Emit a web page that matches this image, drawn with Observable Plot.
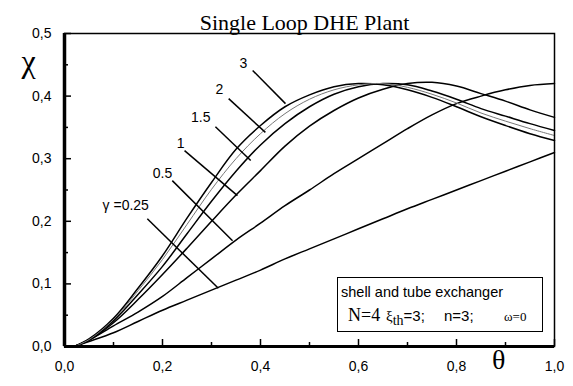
<!DOCTYPE html>
<html>
<head>
<meta charset="utf-8">
<script src="https://cdn.jsdelivr.net/npm/d3@7"></script>
<script src="https://cdn.jsdelivr.net/npm/@observablehq/plot@0.6"></script>
<style>
  body { margin: 0; background: #fff; }
  #wrap { position: relative; width: 573px; height: 386px; }
  #legend { position: absolute; left: 337px; top: 277px; width: 204px; height: 53px; border: 1.5px solid #000; background: #fff; }
  #legend span { position: absolute; white-space: nowrap; color: #000; }
  .sans { font-family: "Liberation Sans", Arial, sans-serif; }
  .serif { font-family: "Liberation Serif", "Times New Roman", serif; }
</style>
</head>
<body>
<div id="wrap">
  <div id="legend">
    <span class="sans" style="left:3px; top:6px; font-size:14.5px;">shell and tube exchanger</span>
    <span class="serif" style="left:10px; top:27px; font-size:18px;">N=4</span>
    <span style="left:48px; top:29px; font-size:15px;"><span class="serif" style="position:static">ξ</span><span class="serif" style="position:relative; top:4px; font-size:14px;">th</span><span class="sans" style="position:static">=3;</span></span>
    <span class="sans" style="left:106px; top:29px; font-size:15px;">n=3;</span>
    <span class="serif" style="left:166px; top:31px; font-size:13px;">ω=0</span>
  </div>
</div>
<script>
// θ grid shared by all curves
const theta = [0.02, 0.05, 0.1, 0.15, 0.2, 0.25, 0.3, 0.35, 0.4, 0.45, 0.5, 0.55, 0.6, 0.65, 0.7, 0.75, 0.8, 0.85, 0.9, 0.95, 1.0];
// χ values per γ
const g3   = [0, 0.012, 0.045, 0.093, 0.145, 0.205, 0.262, 0.315, 0.353, 0.383, 0.402, 0.415, 0.420, 0.418, 0.410, 0.398, 0.383, 0.367, 0.353, 0.340, 0.329];
const g2   = [0, 0.011, 0.043, 0.089, 0.139, 0.195, 0.251, 0.300, 0.340, 0.372, 0.395, 0.410, 0.418, 0.420, 0.414, 0.403, 0.389, 0.373, 0.360, 0.348, 0.337];
const g15  = [0, 0.011, 0.041, 0.083, 0.128, 0.180, 0.232, 0.280, 0.322, 0.356, 0.383, 0.403, 0.415, 0.420, 0.418, 0.408, 0.395, 0.380, 0.368, 0.356, 0.345];
const g1   = [0, 0.010, 0.038, 0.075, 0.115, 0.157, 0.200, 0.242, 0.281, 0.320, 0.352, 0.377, 0.397, 0.411, 0.420, 0.422, 0.416, 0.404, 0.392, 0.378, 0.366];
const g05  = [0, 0.010, 0.033, 0.055, 0.080, 0.110, 0.140, 0.170, 0.197, 0.225, 0.250, 0.276, 0.300, 0.324, 0.348, 0.370, 0.388, 0.400, 0.410, 0.417, 0.420];
const g025 = [0, 0.008, 0.022, 0.040, 0.058, 0.074, 0.090, 0.106, 0.122, 0.140, 0.156, 0.172, 0.188, 0.204, 0.220, 0.235, 0.250, 0.265, 0.280, 0.295, 0.310];

const seriesNames = ["3", "2", "1.5", "1", "0.5", "0.25"];
const seriesValues = [g3, g2, g15, g1, g05, g025];

// curve labels and their leader lines (data coordinates)
const labelText  = ["3", "2", "1.5", "1", "0.5", "γ =0.25"];
const labelTheta = [0.365, 0.316, 0.278, 0.237, 0.200, 0.125];
const labelChi   = [0.452, 0.411, 0.366, 0.324, 0.277, 0.225];
const leadX1 = [0.384, 0.335, 0.308, 0.245, 0.220, 0.169];
const leadY1 = [0.441, 0.396, 0.351, 0.313, 0.265, 0.204];
const leadX2 = [0.451, 0.410, 0.380, 0.353, 0.343, 0.314];
const leadY2 = [0.388, 0.342, 0.297, 0.241, 0.169, 0.093];

const xMajor = [0, 0.2, 0.4, 0.6, 0.8, 1.0];
const xMinor = [0.1, 0.3, 0.5, 0.7, 0.9];
const yMajor = [0, 0.1, 0.2, 0.3, 0.4, 0.5];
const yMinor = [0.05, 0.15, 0.25, 0.35, 0.45];

const rows = [];
seriesNames.forEach((g, i) => theta.forEach((t, j) => rows.push({g, t, v: seriesValues[i][j]})));
const labels = labelText.map((s, i) => ({s, x: labelTheta[i], y: labelChi[i], x1: leadX1[i], y1: leadY1[i], x2: leadX2[i], y2: leadY2[i]}));

const fmt = d => d.toFixed(1).replace(".", ",");
const W = 573, H = 386, mL = 64, mR = 19, mT = 33, mB = 40;
const fw = W - mL - mR, fh = H - mT - mB;

const chart = Plot.plot({
  width: W, height: H,
  marginLeft: mL, marginRight: mR, marginTop: mT, marginBottom: mB,
  style: {fontFamily: "'Liberation Sans', Arial, sans-serif", background: "#fff", color: "#000"},
  x: {domain: [0, 1]},
  y: {domain: [0, 0.5]},
  marks: [
    Plot.axisX(xMajor, {tickSize: 0, tickPadding: 15, tickFormat: fmt, fontSize: 14, label: null}),
    Plot.axisY(yMajor, {tickSize: 0, tickPadding: 13, tickFormat: fmt, fontSize: 14, label: null}),
    Plot.ruleY(yMajor, {insetRight: fw - 7, strokeWidth: 1.5}),
    Plot.ruleY(yMinor, {insetRight: fw - 4, strokeWidth: 1.5}),
    Plot.ruleX(xMajor, {insetTop: fh - 7, strokeWidth: 1.5}),
    Plot.ruleX(xMinor, {insetTop: fh - 4, strokeWidth: 1.5}),
    Plot.line(rows.filter(d => d.g !== "2"), {x: "t", y: "v", z: "g", stroke: "#000", strokeWidth: 1.5, curve: "catmull-rom"}),
    Plot.line(rows.filter(d => d.g === "2"), {x: "t", y: "v", stroke: "#777", strokeWidth: 1, curve: "catmull-rom"}),
    Plot.link(labels, {x1: "x1", y1: "y1", x2: "x2", y2: "y2", stroke: "#000", strokeWidth: 1.5}),
    Plot.text(labels, {x: "x", y: "y", text: "s", fontSize: 14, fill: "#000"}),
    Plot.frame({stroke: "#000", strokeWidth: 1.5}),
    Plot.ruleX([0], {stroke: "#000", strokeWidth: 3.5}),
    Plot.ruleY([0], {stroke: "#000", strokeWidth: 3}),
    Plot.text(["Single Loop DHE Plant"], {frameAnchor: "top", dx: -5, dy: -19, fontSize: 22, fontFamily: "'Liberation Serif', 'Times New Roman', serif", fill: "#000"}),
    Plot.text(["χ"], {frameAnchor: "top-left", dx: -43, dy: 16, fontSize: 32, fontFamily: "'Liberation Serif', 'Times New Roman', serif", fill: "#000"}),
    Plot.text(["θ"], {frameAnchor: "bottom-right", dx: -49, dy: 22, fontSize: 28, fontFamily: "'Liberation Serif', 'Times New Roman', serif", fill: "#000"})
  ]
});
document.getElementById("wrap").prepend(chart);
</script>
</body>
</html>
